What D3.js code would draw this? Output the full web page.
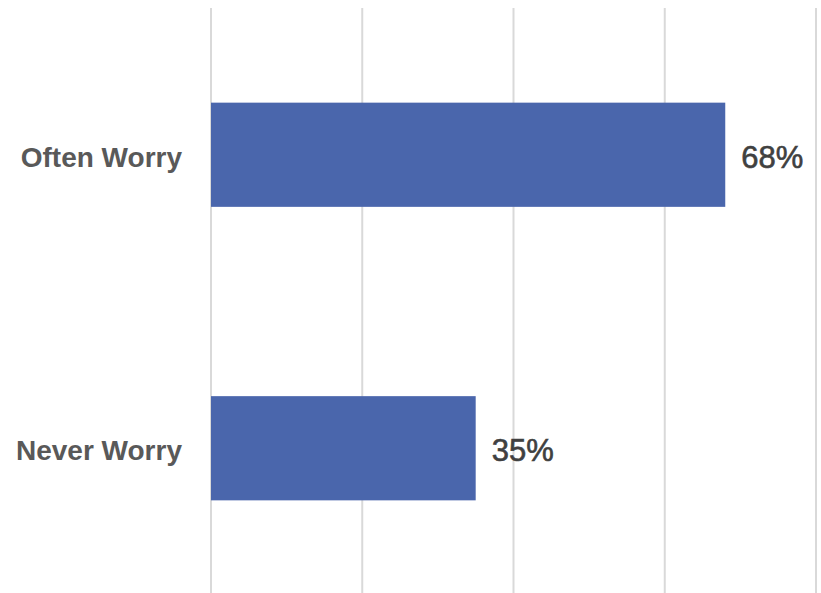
<!DOCTYPE html>
<html>
<head>
<meta charset="utf-8">
<script src="https://cdn.jsdelivr.net/npm/d3@7"></script>
<style>
  html, body { margin: 0; padding: 0; background: #fff; }
  svg { display: block; }
</style>
</head>
<body>
<svg id="chart" width="821" height="593"></svg>
<script>
const categories = ["Often Worry", "Never Worry"];
const values = [0.68, 0.35];
const tickValues = [0, 0.2, 0.4, 0.6, 0.8];

const svg = d3.select("#chart");
const x = d3.scaleLinear().domain([0, 0.8]).range([211, 816]);
const y = d3.scaleBand().domain(categories).range([8, 595]).paddingInner(0.645).paddingOuter(0.3225);

// gridlines
svg.append("g").selectAll("line").data(tickValues).join("line")
  .attr("x1", d => x(d)).attr("x2", d => x(d))
  .attr("y1", 8).attr("y2", 593)
  .attr("stroke", "#d9d9d9").attr("stroke-width", 2);

// bars
svg.append("g").selectAll("rect").data(categories).join("rect")
  .attr("x", x(0))
  .attr("y", d => y(d))
  .attr("width", (d, i) => x(values[i]) - x(0))
  .attr("height", y.bandwidth())
  .attr("fill", "#4a66ac");

// category labels
svg.append("g").selectAll("text").data(categories).join("text")
  .attr("x", x(0) - 29)
  .attr("y", d => y(d) + y.bandwidth() / 2 + 2)
  .attr("dy", "0.36em")
  .attr("text-anchor", "end")
  .attr("font-family", "Liberation Sans, Arial, sans-serif")
  .attr("font-weight", "bold")
  .attr("font-size", 28)
  .attr("fill", "#595959")
  .text(d => d);

// value labels
svg.append("g").selectAll("text").data(categories).join("text")
  .attr("x", (d, i) => x(values[i]) + 16)
  .attr("y", d => y(d) + y.bandwidth() / 2 + 2)
  .attr("dy", "0.36em")
  .attr("font-family", "Liberation Sans, Arial, sans-serif")
  .attr("font-size", 31)
  .attr("fill", "#404040")
  .attr("stroke", "#404040")
  .attr("stroke-width", 0.6)
  .text((d, i) => Math.round(values[i] * 100) + "%");
</script>
</body>
</html>
